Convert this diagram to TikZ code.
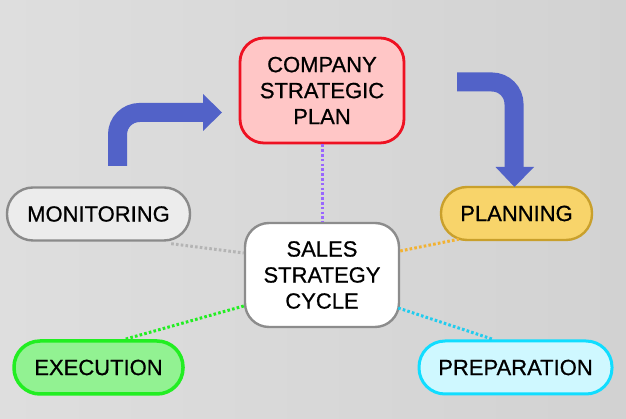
\documentclass[tikz,border=0pt]{standalone}
\usepackage{fontspec}
\setmainfont{Liberation Sans}
\newfontfamily\labelfont[FakeBold=0.7]{Liberation Sans}
\usetikzlibrary{calc}
\definecolor{bgL}{HTML}{DEDEDE}
\definecolor{bgR}{HTML}{D2D2D2}
\definecolor{arrowblue}{RGB}{82,98,200}
\definecolor{compfill}{HTML}{FFC6C6}
\definecolor{compdraw}{HTML}{EE1122}
\definecolor{monfill}{HTML}{ECECEC}
\definecolor{mondraw}{HTML}{8A8A8A}
\definecolor{planfill}{HTML}{F8D46A}
\definecolor{plandraw}{HTML}{C9A02C}
\definecolor{execfill}{HTML}{92F292}
\definecolor{execdraw}{HTML}{22EE22}
\definecolor{prepfill}{HTML}{CFF8FF}
\definecolor{prepdraw}{HTML}{11DDFF}
\definecolor{salesdraw}{HTML}{8C8C8C}
\definecolor{purplec}{HTML}{9966FF}
\definecolor{grayc}{HTML}{B4B4B4}
\definecolor{orangec}{HTML}{F2B232}
\definecolor{greenc}{HTML}{22EE22}
\definecolor{cyanc}{HTML}{22CCEE}
\tikzset{
  box/.style={rounded corners=24pt, inner sep=0pt, align=center,
    font=\labelfont\fontsize{22}{26}\selectfont, text=black},
  pill/.style={rounded corners=26pt, inner sep=0pt, align=center,
    minimum height=53pt, font=\labelfont\fontsize{22}{26}\selectfont, text=black},
  dotline/.style={line width=3pt, dash pattern=on 2.6pt off 2.2pt},
  bigarrow/.style={line width=19pt, draw=arrowblue, rounded corners=22pt}
}
\begin{document}
\begin{tikzpicture}[x=1pt,y=1pt]
\useasboundingbox (0,0) rectangle (626,419);
\shade[left color=bgL, right color=bgR] (0,0) rectangle (626,419);

\node[box, fill=compfill, draw=compdraw, line width=2.8pt,
  minimum width=164pt, minimum height=105pt] (comp) at (322,328.5)
  {COMPANY\\STRATEGIC\\PLAN};
\node[box, fill=white, draw=salesdraw, line width=2.4pt,
  minimum width=154pt, minimum height=104pt] (sales) at (322,144)
  {SALES\\STRATEGY\\CYCLE};
\node[pill, fill=monfill, draw=mondraw, line width=2.4pt,
  minimum width=183pt] (mon) at (98.5,205) {MONITORING};
\node[pill, fill=planfill, draw=plandraw, line width=2.4pt,
  minimum width=151pt] (plan) at (516.5,205.5) {PLANNING};
\node[pill, fill=execfill, draw=execdraw, line width=3.5pt,
  minimum width=169pt] (exec) at (98.5,51.5) {EXECUTION};
\node[pill, fill=prepfill, draw=prepdraw, line width=3pt,
  minimum width=193pt] (prep) at (515.5,51.5) {PREPARATION};

% dotted connectors
\draw[dotline, purplec] (comp.south) -- (sales.north);
\draw[dotline, grayc] ($(mon.south east)+(-20,-2)$) -- ($(sales.west)+(0,22)$);
\draw[dotline, orangec] ($(sales.east)+(0,24)$) -- ($(plan.south west)+(19,2)$);
\draw[dotline, greenc] ($(sales.west)+(0,-31)$) -- ($(exec.north)+(26.5,0)$);
\draw[dotline, cyanc] ($(sales.east)+(-2,-33)$) -- ($(prep.north)+(-22,0)$);

% big bent arrows
\coordinate (la0) at (117.5,253);
\coordinate (la1) at (117.5,306.5);
\coordinate (la2) at (204,306.5);
\draw[bigarrow] (la0) -- (la1) -- (la2);
\fill[arrowblue] (203,325) -- (222,306.5) -- (203,288) -- cycle;

\coordinate (ra0) at (457,337);
\coordinate (ra1) at (514,337);
\coordinate (ra2) at (514,251);
\draw[bigarrow] (ra0) -- (ra1) -- (ra2);
\fill[arrowblue] (495.5,252) -- (534,252) -- (514.5,232) -- cycle;
\end{tikzpicture}
\end{document}
